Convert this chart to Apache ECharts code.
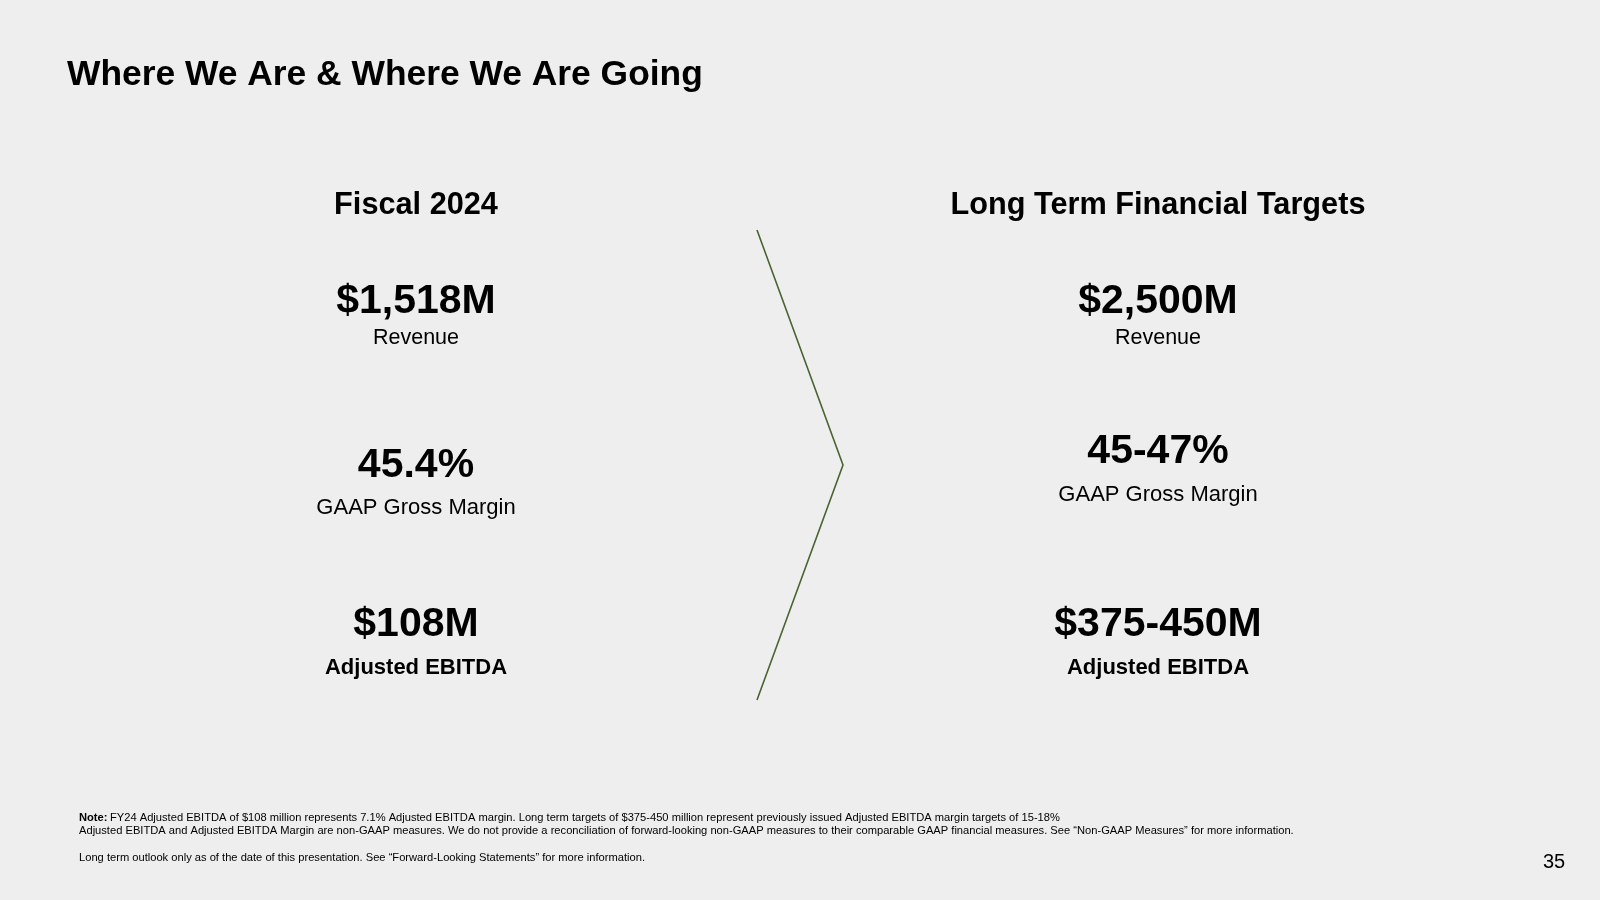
<!DOCTYPE html>
<html>
<head>
<meta charset="utf-8">
<script src="https://cdn.jsdelivr.net/npm/echarts@6/dist/echarts.min.js"></script>
<style>
html,body{margin:0;padding:0;background:#eeeeee;}
#chart{width:1600px;height:900px;}
</style>
</head>
<body>
<div id="chart"></div>
<script>
// ---- data ----
const pageTitle = 'Where We Are & Where We Are Going';
const columnHeaders = ['Fiscal 2024', 'Long Term Financial Targets'];
const metricLabels = ['Revenue', 'GAAP Gross Margin', 'Adjusted EBITDA'];
const fiscal2024Values = ['$1,518M', '45.4%', '$108M'];
const longTermValues = ['$2,500M', '45-47%', '$375-450M'];
const footnoteLines = [
  'FY24 Adjusted EBITDA of $108 million represents 7.1% Adjusted EBITDA margin. Long term targets of $375-450 million represent previously issued Adjusted EBITDA margin targets of 15-18%',
  'Adjusted EBITDA and Adjusted EBITDA Margin are non-GAAP measures. We do not provide a reconciliation of forward-looking non-GAAP measures to their comparable GAAP financial measures. See \u201cNon-GAAP Measures\u201d for more information.',
  'Long term outlook only as of the date of this presentation. See \u201cForward-Looking Statements\u201d for more information.'
];
const pageNumber = '35';

// ---- layout ----
const FONT = '"Liberation Sans", Arial, Helvetica, sans-serif';
const colX = [416, 1158];
const headerY = 206;
const valueY = [[302, 466, 625], [302, 452, 625]];
const labelY = [[338, 508, 668], [338, 495, 668]];
const labelBold = [false, false, true];

const chart = echarts.init(document.getElementById('chart'), null, {renderer: 'canvas'});
const g = [];
g.push({type: 'rect', shape: {x: 0, y: 0, width: 1600, height: 900}, style: {fill: '#eeeeee'}, silent: true, z: 0});
g.push({type: 'text', x: 67, y: 75, style: {text: pageTitle, font: 'bold 35.4px ' + FONT, fill: '#000', textVerticalAlign: 'middle'}});

const colValues = [fiscal2024Values, longTermValues];
columnHeaders.forEach((h, c) => {
  g.push({type: 'text', x: colX[c], y: headerY, style: {text: h, font: 'bold 30.7px ' + FONT, fill: '#000', textAlign: 'center', textVerticalAlign: 'middle'}});
  colValues[c].forEach((v, i) => {
    g.push({type: 'text', x: colX[c], y: valueY[c][i], style: {text: v, font: 'bold 41px ' + FONT, fill: '#000', textAlign: 'center', textVerticalAlign: 'middle'}});
    g.push({type: 'text', x: colX[c], y: labelY[c][i], style: {text: metricLabels[i], font: (labelBold[i] ? 'bold ' : '') + (i === 0 ? '21.5px ' : '22px ') + FONT, fill: '#000', textAlign: 'center', textVerticalAlign: 'middle'}});
  });
});

// chevron
g.push({type: 'polyline', shape: {points: [[757, 230], [843, 465], [757, 700]]}, style: {stroke: '#4a6331', lineWidth: 1.6, fill: null}});

// footnotes
const FN = '11.15px ';
g.push({type: 'text', x: 79, y: 818, style: {text: 'Note:', font: 'bold ' + FN + FONT, fill: '#000', textVerticalAlign: 'middle'}});
g.push({type: 'text', x: 110, y: 818, style: {text: footnoteLines[0], font: FN + FONT, fill: '#000', textVerticalAlign: 'middle'}});
g.push({type: 'text', x: 79, y: 831, style: {text: footnoteLines[1], font: FN + FONT, fill: '#000', textVerticalAlign: 'middle'}});
g.push({type: 'text', x: 79, y: 858, style: {text: footnoteLines[2], font: FN + FONT, fill: '#000', textVerticalAlign: 'middle'}});
g.push({type: 'text', x: 1554, y: 862, style: {text: pageNumber, font: '20px ' + FONT, fill: '#000', textAlign: 'center', textVerticalAlign: 'middle'}});

chart.setOption({backgroundColor: '#eeeeee', animation: false, graphic: g});
</script>
</body>
</html>
